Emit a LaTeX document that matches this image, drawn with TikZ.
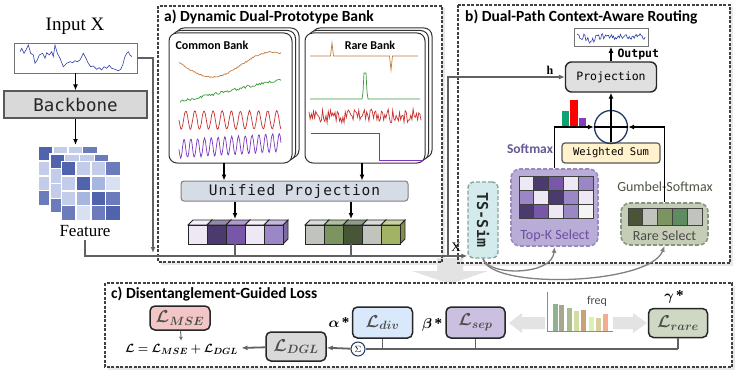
\documentclass[tikz,border=0pt]{standalone}
\usepackage{amsmath,bm}
\usepackage{fontspec}
\setmainfont{Liberation Serif}
\newfontfamily\carl{Carlito}
\newfontfamily\dmono{DejaVu Sans Mono}
\newfontfamily\dmonosp[LetterSpace=6]{DejaVu Sans Mono}
\usetikzlibrary{arrows.meta}
\definecolor{tsblue}{HTML}{3040A8}
\definecolor{bbgray}{HTML}{D9D9D9}
\definecolor{upfill}{HTML}{D6DCE5}
\definecolor{projgray}{HTML}{E0E0E0}
\definecolor{wsfill}{HTML}{FFF2CC}
\definecolor{navy}{HTML}{1F3864}
\definecolor{tkfill}{HTML}{B9ACD6}
\definecolor{tkborder}{HTML}{9A8AC0}
\definecolor{tktext}{HTML}{6C4FA0}
\definecolor{rsfill}{HTML}{C6CDB7}
\definecolor{rsborder}{HTML}{8A9580}
\definecolor{tsfill}{HTML}{D4EBEE}
\definecolor{tsborder}{HTML}{8AA39A}
\definecolor{gbtext}{HTML}{4E5544}
\definecolor{softc}{HTML}{4B3B7F}
\definecolor{barg}{HTML}{12A074}
\definecolor{barr}{HTML}{FF0000}
\definecolor{barp}{HTML}{7F3FBF}
\definecolor{cbrown}{HTML}{C47A3E}
\definecolor{cgreen}{HTML}{3A9A3A}
\definecolor{cred}{HTML}{C83030}
\definecolor{cpurple}{HTML}{7B35C0}
\definecolor{pA}{HTML}{EDE8F3}
\definecolor{pB}{HTML}{4B3A6E}
\definecolor{pC}{HTML}{7857A8}
\definecolor{pD}{HTML}{9B87C5}
\definecolor{pE}{HTML}{F4F4F4}
\definecolor{gA}{HTML}{C0C4BC}
\definecolor{gB}{HTML}{7B9460}
\definecolor{gC}{HTML}{475636}
\definecolor{gD}{HTML}{A2B463}
\definecolor{gE}{HTML}{5E8C5E}
\definecolor{gF}{HTML}{4A5538}
\definecolor{lmsef}{HTML}{F2C6C6}
\definecolor{ldglf}{HTML}{D9D9D9}
\definecolor{ldivf}{HTML}{DAE8FC}
\definecolor{lsepf}{HTML}{CBC0E0}
\definecolor{lraref}{HTML}{CFD8C3}
\definecolor{hbA}{HTML}{8FB38F}
\definecolor{hbB}{HTML}{A3A88F}
\definecolor{hbC}{HTML}{A9BC8B}
\definecolor{hbD}{HTML}{D2DDA3}
\definecolor{hbE}{HTML}{C9A27A}
\definecolor{hbF}{HTML}{D9F2B4}
\definecolor{hbG}{HTML}{D8CF9C}
\definecolor{hbH}{HTML}{F2AD8E}
\definecolor{lightarr}{HTML}{E3E3E3}
\definecolor{fkA}{HTML}{5263AE}
\definecolor{fkB}{HTML}{6B7BBC}
\definecolor{fkC}{HTML}{A6B6DF}
\definecolor{fkD}{HTML}{C3CDEA}
\definecolor{fkE}{HTML}{D9E0F2}
\newcommand{\protocube}[3]{%
  \filldraw[fill=#3!80!black, draw=black!85, line width=0.8pt] ({#1+19},{#2}) -- ++(5,-5) -- ++(0,19) -- ++(-5,5) -- cycle;
  \filldraw[fill=#3!60!white, draw=black!85, line width=0.8pt] ({#1},{#2}) -- ++(5,-5) -- ++(19,0) -- ++(-5,5) -- cycle;
  \filldraw[fill=#3, draw=black!85, line width=0.8pt] ({#1},{#2}) rectangle ++(19,19);}
\begin{document}
\begin{tikzpicture}[x=1pt, y=-1pt,
    panel/.style={draw=black!75, line width=1.1pt, dash pattern=on 3pt off 1.5pt},
    ptitle/.style={anchor=west, inner sep=0pt, font=\carl\bfseries\fontsize{15.5}{18}\selectfont},
    btitle/.style={font=\carl\bfseries\fontsize{12}{14}\selectfont},
    lbltext/.style={font=\carl\fontsize{14}{16}\selectfont},
    bankbox/.style={draw=black!80, fill=white, line width=1pt, rounded corners=8pt},
    arr/.style={-{Latex[length=6pt,width=5pt]}, line width=1.4pt, draw=black},
    garr/.style={-{Latex[length=6pt,width=5pt]}, line width=1.5pt, draw=black!62},
    carr/.style={-{Latex[length=6pt,width=5pt]}, line width=1.3pt, draw=black!50},
    busline/.style={line width=1.5pt, draw=black!62},
    lbox/.style={draw=black!85, line width=1.5pt, rounded corners=5pt, inner sep=0pt, text=black!70, font=\fontsize{18}{20}\selectfont},
    cellb/.style={draw=black!75, line width=0.7pt},
    monolbl/.style={font=\dmono\fontsize{11.5}{13}\selectfont}]
    \useasboundingbox (0,0) rectangle (754,377);
    \pgfmathsetseed{11}
    \fill[black!9] (160.5,8.5) rectangle (444.5,264.5);
    \fill[black!9] (460.5,7.5) rectangle (733,265.5);
    \fill[black!9] (107.5,285.5) rectangle (735,369.5);
    \fill[white] (158,6) rectangle (442,262);
    \fill[white] (458,5) rectangle (730,263);
    \fill[white] (105,283) rectangle (732,367);
    \fill[lightarr] (437,258) -- (463,258) -- (463,271) -- (488,271) -- (450,284) -- (412,271) -- (437,271) -- cycle;
    \draw[panel] (158,6) rectangle (442,262);
    \draw[panel] (458,5) rectangle (730,263);
    \draw[panel] (105,283) rectangle (732,367);
    \node[ptitle] (ta) at (164,17) {a) Dynamic Dual-Prototype Bank};
    \node[ptitle] (tb) at (465,17) {b) Dual-Path Context-Aware Routing};
    \node[ptitle] (tc) at (111,294) {c) Disentanglement-Guided Loss};

    \node[font=\fontsize{19}{22}\selectfont] (inlbl) at (75,26) {Input X};
    \node[draw=black!55, line width=0.6pt, minimum width=123pt, minimum height=30pt, inner sep=0pt] (inp) at (75.5,58) {};
    \draw[tsblue, line width=0.6pt] plot coordinates {(20,51.7) (21.7,48.3) (24,53.3) (26,50) (28.3,45) (30.7,53.3) (33.3,55) (35,63.3) (37.3,60) (39.3,55) (42.7,53.3) (45,58.3) (46.7,52.7) (49.3,55) (51.7,51.7) (53.3,56.7) (55,45) (57.3,53.3) (60,58.3) (63.3,66.7) (66.7,63.3) (70,61.7) (72.7,62.7) (75,60.7) (77.3,61.7) (80,60) (81.7,56.7) (83.3,53.3) (86,58.3) (88.3,63.3) (90.7,66.7) (93.3,66) (96.7,69.3) (99.3,67.7) (101.7,70) (104,66.7) (106.7,68.3) (109.3,65.3) (111.7,68.3) (115,69.3) (118.3,70.7) (120.7,69.3) (122.7,65) (124.7,57.3) (126.7,53.3) (128.3,51.7) (130,55) (132,56.7)};
    \node[draw=black!65, fill=bbgray, line width=1.2pt, minimum width=143pt, minimum height=27pt, inner sep=0pt, font=\dmono\fontsize{17.5}{20}\selectfont, text=black!85] (bb) at (75.5,104.5) {Backbone};
    \coordinate (ftop) at (75.5,145);
    \draw[arr] (inp) -- (bb);
    \draw[arr] (bb) -- (ftop);
    \foreach \ox/\oy in {39/147, 50.5/154.5, 62/162} {
        \fill[white] ({\ox-1.5},{\oy-1.5}) rectangle ++(61.6,61.6);
        \foreach \r/\cl in {0/{fkA,fkD,fkD,fkB}, 1/{fkD,fkA,fkC,fkE}, 2/{fkD,fkC,fkA,fkB}, 3/{fkB,fkE,fkB,fkA}}
            \foreach \c [count=\k from 0] in \cl
                \fill[\c] ({\ox+14.8*\k},{\oy+14.8*\r}) rectangle ++(13.4,13.4);
    }
    \node[font=\fontsize{17}{20}\selectfont] (feat) at (85,231) {Feature};

    \foreach \d in {7,3.5,0} {
        \draw[bankbox] ({169+\d},{33-\d*5/7}) rectangle ({292+\d},{163-\d*5/7});
        \draw[bankbox] ({305+\d},{33-\d*5/7}) rectangle ({425+\d},{163-\d*5/7});
    }
    \node[btitle] (cbl) at (212,45) {Common Bank};
    \node[btitle] (rbl) at (370,45) {Rare Bank};
    \draw[cbrown, line width=0.7pt] plot[domain=179:281, samples=90] (\x,{64.5+12.5*cos(3*(\x-212))+0.7*rand});
    \draw[cgreen, line width=0.7pt] plot[domain=180:281, samples=80] (\x,{101.5-22*(\x-180)/101+1.3*rand});
    \draw[cred, line width=0.7pt] plot[domain=179:281, samples=260] (\x,{120+9*sin(39.56*(\x-179))+0.6*rand});
    \draw[cpurple, line width=0.7pt] plot[domain=179:281, samples=260] (\x,{149-0.065*(\x-179)+9*sin(52.94*(\x-179))+0.6*rand});
    \draw[cbrown, line width=0.7pt] (310,56) -- (330.5,56) -- (332,43) -- (333.5,56) -- (389.5,56) -- (391,70) -- (392.5,56) -- (418,56);
    \draw[cgreen, line width=0.7pt] (310,99) -- (362,99) -- (363,92) -- (364,73) -- (366,73) -- (367,92) -- (368,99) -- (420,99);
    \draw[cred, line width=0.7pt] plot[domain=309:421, samples=100] (\x,{116+7*rand});
    \draw[cpurple, line width=0.7pt] (311,133) -- (379,133) -- (379,160) -- (424,160);
    \coordinate (cbB) at (224,163);
    \coordinate (rbB) at (362,163);
    \node[draw=black!50, fill=upfill, rounded corners=3pt, line width=1pt, minimum width=227pt, minimum height=20pt, inner sep=0pt, font=\dmonosp\fontsize{14.5}{16}\selectfont, text=black!90] (up) at (294.5,191) {Unified Projection};
    \draw[arr] (cbB) -- (cbB |- up.north);
    \draw[arr] (rbB) -- (rbB |- up.north);
    \coordinate (cuL) at (235,219);
    \coordinate (cuR) at (351,219);
    \draw[arr] (up.south -| cuL) -- (cuL);
    \draw[arr] (up.south -| cuR) -- (cuR);
    \foreach \c [count=\i from 0] in {pA,pB,pC,pA,pD} {\protocube{188+19*\i}{225}{\c}}
    \foreach \c [count=\i from 0] in {gA,gB,gC,gA,gD} {\protocube{305+19*\i}{225}{\c}}

    \node[draw=black!55, line width=0.6pt, minimum width=74pt, minimum height=18pt, inner sep=0pt] (outb) at (611,37.5) {};
    \draw[tsblue, line width=0.6pt] plot[domain=577:645, samples=70] (\x,{36.5+3*rand+4*exp(-((\x-591)/5)*((\x-591)/5))});
    \node[anchor=west, font=\dmono\bfseries\fontsize{11.5}{13}\selectfont] (outl) at (614,54) {Output};
    \node[draw=black!85, fill=projgray, rounded corners=6pt, line width=1.4pt, minimum width=91pt, minimum height=30pt, inner sep=0pt, monolbl] (proj) at (611,77) {Projection};
    \draw[arr] (proj) -- (outb);
    \node[draw=black!65, fill=wsfill, rounded corners=3pt, line width=1.2pt, minimum width=98pt, minimum height=20pt, inner sep=0pt, font=\dmono\fontsize{10.5}{12}\selectfont] (ws) at (611,153) {Weighted Sum};
    \node[circle, draw=navy, line width=1.3pt, minimum size=33pt, inner sep=0pt] (osum) at (611,127) {};
    \draw[line width=1.3pt] (osum.west) -- (osum.east);
    \draw[arr] (ws.north) -- (proj.south);
    \fill[barg] (562,111) rectangle (569,127);
    \fill[barr] (570,100) rectangle (578,127);
    \fill[barp] (579,118) rectangle (586,127);
    \node[font=\carl\bfseries\fontsize{13.5}{15}\selectfont, text=softc!85] (smx) at (530,149) {Softmax};
    \node[draw=tkborder, fill=tkfill, line width=1.6pt, dash pattern=on 4pt off 2pt, rounded corners=9pt, minimum width=87pt, minimum height=77pt, inner sep=0pt] (topk) at (554.5,207.5) {};
    \foreach \r/\cl in {0/{pA,pB,pC,pA,pD}, 1/{pD,pA,pB,pD,pA}, 2/{pB,pC,pA,pD,pE}}
        \foreach \c [count=\k from 0] in \cl
            \draw[cellb, fill=\c] ({519+14.8*\k},{176+14*\r}) rectangle ++(14.8,14);
    \node[lbltext, text=tktext] (tkl) at (555,236) {Top-K Select};
    \node[lbltext, text=gbtext] (gbl) at (665,187) {Gumbel-Softmax};
    \node[draw=rsborder, fill=rsfill, line width=1.6pt, dash pattern=on 4pt off 2pt, rounded corners=9pt, minimum width=87pt, minimum height=42pt, inner sep=0pt] (rsel) at (664.5,224) {};
    \foreach \c [count=\k from 0] in {gF,gA,gB,gE,gA}
        \draw[cellb, fill=\c] ({628+14.8*\k},208) rectangle ++(14.8,17);
    \node[lbltext, text=black!70] (rsl) at (664.5,236) {Rare Select};
    \draw[arr] (topk.north) |- (osum.west);
    \draw[arr] (rsel.north) |- (osum.east);
    \node[draw=tsborder, fill=tsfill, line width=1.4pt, dash pattern=on 4pt off 2pt, rounded corners=6pt, minimum width=30pt, minimum height=76pt, inner sep=0pt] (tss) at (483,220) {};
    \node[rotate=-90, font=\dmono\bfseries\fontsize{15}{17}\selectfont, text=black!85] (tsl) at (tss) {TS-Sim};
    \draw[carr] (tss.south) .. controls (488,276) and (552,276) .. (topk.south);
    \draw[carr] (tss.south) .. controls (490,290) and (650,285) .. (rsel.south);

    \coordinate (busY) at (0,256);
    \coordinate (inDrop) at (153,253);
    \coordinate (hRoot) at (448,256);
    \coordinate (cuLb) at (235,244);
    \coordinate (cuRb) at (351,244);
    \draw[busline] (cuLb) -- (cuLb |- busY);
    \draw[busline] (cuRb) -- (cuRb |- busY);
    \draw[garr] (feat.south) |- (tss.west |- busY);
    \draw[garr] (inp.east) -| (inDrop);
    \draw[garr] (hRoot) |- (proj.west);
    \node[font=\bfseries\fontsize{12}{13}\selectfont] (hl) at (550,70) {h};
    \node[font=\fontsize{13}{14}\selectfont] (xl) at (456,247.5) {X};

    \node[lbox, fill=lmsef, minimum width=60pt, minimum height=24pt] (lmse) at (180,318) {$\boldsymbol{\mathcal{L}_{MSE}}$};
    \node[font=\fontsize{12.5}{14}\selectfont] (fml) at (181.5,349.5) {$\boldsymbol{\mathcal{L}=\mathcal{L}_{MSE}+\mathcal{L}_{DGL}}$};
    \node[lbox, fill=ldglf, minimum width=60pt, minimum height=29pt] (ldgl) at (296,346.5) {$\boldsymbol{\mathcal{L}_{DGL}}$};
    \node[circle, draw=navy, line width=1pt, minimum size=14pt, inner sep=0pt, font=\fontsize{9}{10}\selectfont] (sig) at (358,349) {$\Sigma$};
    \node[lbox, fill=ldivf, minimum width=60pt, minimum height=31pt] (ldiv) at (382.5,322.5) {$\boldsymbol{\mathcal{L}_{div}}$};
    \node[lbox, fill=lsepf, minimum width=59pt, minimum height=31pt] (lsep) at (475.5,322.5) {$\boldsymbol{\mathcal{L}_{sep}}$};
    \node[lbox, fill=lraref, minimum width=59pt, minimum height=29pt] (lrare) at (678,323) {$\boldsymbol{\mathcal{L}_{rare}}$};
    \node[font=\fontsize{15}{17}\selectfont] (al) at (339,323) {$\boldsymbol{\alpha}$\,\textbf{*}};
    \node[font=\fontsize{15}{17}\selectfont] (bl) at (432,325) {$\boldsymbol{\beta}$\,\textbf{*}};
    \node[font=\fontsize{15}{17}\selectfont] (gl) at (674,297) {$\boldsymbol{\gamma}$\,\textbf{*}};
    \draw[-{Latex[length=4pt,width=4pt]}, black!55, line width=1pt] (lmse) -- (fml);
    \draw[garr, line width=1.8pt] (ldgl) -- (fml);
    \draw[garr, line width=1.8pt] (sig) -- (ldgl);
    \draw[busline] (sig.east) -- (sig.east -| lrare.south);
    \draw[busline] (ldiv.south) -- (ldiv.south |- sig.east);
    \draw[busline] (lsep.south) -- (lsep.south |- sig.east);
    \draw[busline] (lrare.south) -- (lrare.south |- sig.east);
    \fill[lightarr] (509,323) -- (522,313) -- (522,317) -- (545,317) -- (545,329) -- (522,329) -- (522,333) -- cycle;
    \fill[lightarr] (647,323) -- (633,313) -- (633,317) -- (613,317) -- (613,329) -- (633,329) -- (633,333) -- cycle;
    \foreach \xa/\yt/\c in {552.7/304/hbA, 559.3/305.3/hbB, 566.7/308/hbC, 574/311.3/hbD, 581.3/310/hbE, 588.7/317.3/hbF, 596/318/hbG, 603.3/314/hbH}
        \fill[\c] (\xa,\yt) rectangle ({\xa+5},331);
    \draw[black!45, line width=0.8pt] (547,292) -- (547,331) -- (613,331);
    \node[font=\carl\fontsize{12}{14}\selectfont, text=black!70] (frq) at (597,301) {freq};
\end{tikzpicture}
\end{document}
